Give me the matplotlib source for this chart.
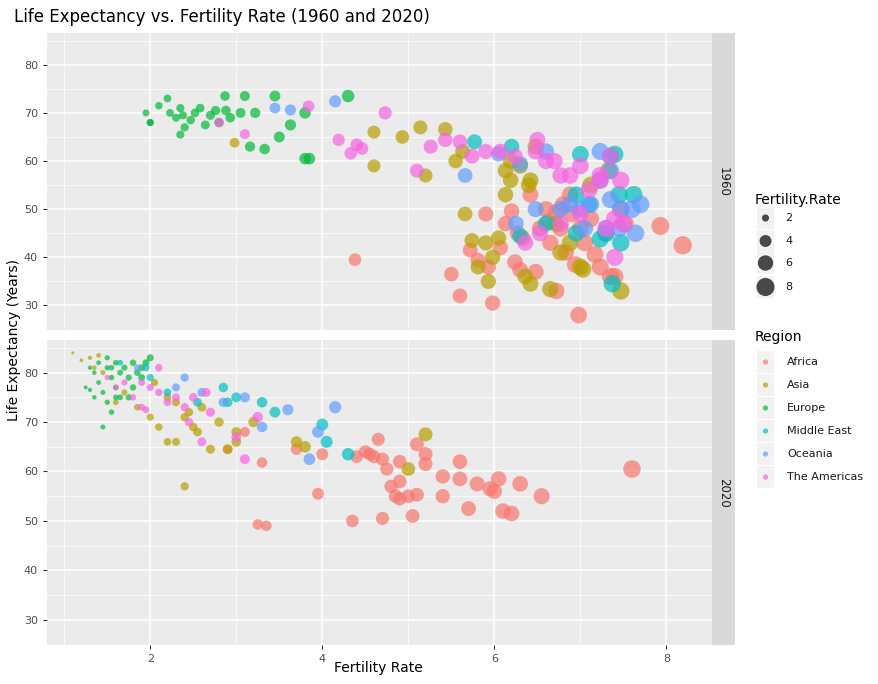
import matplotlib
matplotlib.use("Agg")
import matplotlib.pyplot as plt
import numpy as np

regions = ["Africa", "Asia", "Europe", "Middle East", "Oceania", "The Americas"]
colors = ["#F8766D", "#B79F00", "#00BA38", "#00BFC4", "#619CFF", "#F564E3"]

# ---- 1960 ----
eu60_f = [1.95,2.0,2.0,2.1,2.2,2.23,2.3,2.35,2.35,2.38,2.4,2.47,2.52,2.58,2.64,2.7,2.76,2.8,2.87,2.88,2.93,3.05,3.1,3.16,3.22,3.33,3.45,3.5,3.63,3.8,3.8,3.85,4.3]
eu60_l = [70,68,68,71.5,73,70,69,71,65.5,69.5,67,68.5,70,71,67.5,69.5,70.5,68,73.5,70.5,69,70,73.5,63,70,62.5,73.5,65,67.5,70,60.5,60.5,73.5]
oc60_f = [3.45,3.63,4.15,5.66,6.05,6.3,6.48,6.77,6.88,7.0,7.12,7.23,7.35,7.47,7.64,7.7,7.6,6.25,6.6,7.05,7.3,7.45,7.35,7.23]
oc60_l = [71,70.6,72.4,57,61.5,59.4,50,50,51,50,51,62,52,50,45,51,50,47,62,46,46,46,58,56]
me60_f = [5.77,6.2,6.3,6.6,6.95,7.0,7.1,7.23,7.35,7.37,7.47,7.45,7.62,7.4,6.95,7.3]
me60_l = [64,63,44.4,47,45,61.4,51,43.8,61,34.5,43,53,53,61.4,53,45]
am60_f = [2.8,3.1,3.84,4.19,4.33,4.4,4.46,4.73,5.1,5.26,5.43,5.6,5.74,5.9,6.07,6.24,6.36,6.48,6.5,6.6,6.7,6.77,6.88,7.0,7.1,7.23,7.35,7.4,7.5,7.4,7.47,6.77,6.53,7.23,7.0,7.3]
am60_l = [68,65.6,71.4,64.4,61.6,63.4,62.6,70,58,63,64.4,64,61,62,62,61,43,62,64.4,60,60,57,57,59,54,56,61,48,47,40,56,47,45,57,49,46]
as60_f = [2.98,4.6,4.6,4.93,5.14,5.2,5.43,5.55,5.63,5.66,5.74,5.81,5.9,5.93,5.98,6.05,6.13,6.13,6.19,6.19,6.3,6.36,6.42,6.4,6.48,6.65,6.72,6.77,6.88,7.0,7.03,7.12,7.33,7.47,6.42]
as60_l = [63.8,66,59,65,67,57,66.6,60,62,49,43.5,38,43,35,40,44,58,53,56,60,59,36,56,55,63,33.4,47,41,43,38,37.5,55,58,33,34.5]
af60_f = [4.38,5.5,5.6,5.72,5.81,5.9,5.93,5.98,6.07,6.13,6.2,6.24,6.3,6.33,6.42,6.48,6.53,6.6,6.65,6.72,6.77,6.83,6.88,6.9,6.94,6.98,7.0,7.05,7.12,7.17,7.23,7.29,7.35,7.4,7.47,7.52,7.93,8.19,6.72,6.27,6.63,6.8]
af60_l = [39.5,36.5,32,41.5,39.4,49,38,30.5,42,47,49.6,39,37.4,44,53,37,46,50,43,33,46,41,53,49,38.5,28,46,43,48,40.6,38,45,36,36,50,47,46.5,42.5,49.4,45,47.4,51]

# ---- 2020 ----
eu20_f = [1.3,1.35,1.4,1.4,1.45,1.5,1.5,1.55,1.6,1.6,1.65,1.7,1.75,1.8,1.85,1.9,1.95,2.0,1.3,1.45,1.55,1.6,1.75,1.65,1.8,1.5,1.25,1.35,1.9,1.55]
eu20_l = [81,80,82,78,76,81,74,79,82,77,75,81,79,82,80,81,82,83,76.5,69,72,75,75,80,77,83,77,75,79,81]
as20_f = [1.1,1.2,1.3,1.35,1.45,1.6,1.7,1.85,2.0,2.1,2.2,2.3,2.4,2.5,2.55,2.7,2.9,2.4,3.0,3.0,3.2,3.7,3.8,5.0,5.2,2.2,2.45,2.6,2.05,1.4,2.3,2.8]
as20_l = [84,82.5,83,81,80,74,76,73,71,69,66,66,71,69,68,64.5,64.5,57,66,68,70,66,65,60.5,67.5,75,72,73,78,83.5,74,70]
me20_f = [1.65,1.95,2.0,2.85,2.9,3.0,3.3,3.45,4.0,4.3,2.55,2.2,4.05]
me20_l = [82,81,79,77,74,75,74,72,69.5,63.5,74,76,66]
oc20_f = [1.85,2.3,2.4,2.6,2.85,3.3,3.6,3.85,3.95,4.15,3.1]
oc20_l = [81,77,79,76,74,69,72.5,62.5,68,73,75]
am20_f = [1.5,1.6,1.7,1.8,1.9,1.95,2.0,2.1,2.2,2.3,2.4,2.5,2.6,2.7,3.0,3.1,3.25,2.1,1.9,2.45,2.65]
am20_l = [79,77,78,75,73,72.5,77,76,74,75,73,75,66,72,67,62.5,71,81,78,70,76]
af20_f = [2.9,3.1,3.25,3.35,3.3,3.7,3.95,4.0,4.35,4.4,4.5,4.55,4.6,4.65,4.7,4.75,4.8,4.85,4.9,4.9,5.0,5.05,5.1,5.2,5.2,5.4,5.4,5.6,5.7,5.8,5.95,6.05,6.1,6.2,6.3,6.55,7.6,4.7,5.1,4.9,5.6,6.0]
af20_l = [64.5,68,49.3,49,61.8,64.5,55.5,63.5,50,63,64,63.5,63,66.5,62.5,60.5,57,55,58,62,55,51,65.5,63.5,61.5,59,55,58.5,52.5,57.5,56.5,58.5,52,51.5,57.5,55,60.5,50.5,55.3,54.5,62,56]

data = {
    "1960": [(af60_f, af60_l), (as60_f, as60_l), (eu60_f, eu60_l), (me60_f, me60_l), (oc60_f, oc60_l), (am60_f, am60_l)],
    "2020": [(af20_f, af20_l), (as20_f, as20_l), (eu20_f, eu20_l), (me20_f, me20_l), (oc20_f, oc20_l), (am20_f, am20_l)],
}
fmin, fmax = 1.1, 8.2
def sz(f):
    f = np.asarray(f, float)
    return (2.2 * np.sqrt(1 + (f - fmin) / (fmax - fmin) * 35)) ** 2

W, H = 879, 684
fig = plt.figure(figsize=(W/100, H/100), dpi=100)
bg = fig.add_axes([0, 0, 1, 1], zorder=-1)
bg.set_xlim(0, W); bg.set_ylim(H, 0); bg.axis("off")

panels = [("1960", 33, 330), ("2020", 340, 645)]
L, R = 47, 712
xmajor = [2, 4, 6, 8]
ymajor = [30, 40, 50, 60, 70, 80]
axes = []
for name, top, bot in panels:
    ax = fig.add_axes([L/W, 1-bot/H, (R-L)/W, (bot-top)/H])
    ax.set_facecolor("#EBEBEB")
    for s in ax.spines.values(): s.set_visible(False)
    ax.set_xlim(0.8, 8.53); ax.set_ylim(24.9, 86.6)
    for v in [1, 3, 5, 7]: ax.axvline(v, color="white", lw=0.5, zorder=0)
    for v in [25, 35, 45, 55, 65, 75, 85]: ax.axhline(v, color="white", lw=0.5, zorder=0)
    for v in xmajor: ax.axvline(v, color="white", lw=1.1, zorder=0)
    for v in ymajor: ax.axhline(v, color="white", lw=1.1, zorder=0)
    ax.set_yticks(ymajor)
    ax.set_xticks(xmajor)
    ax.tick_params(colors="#4D4D4D", labelsize=8, length=3, color="#333333")
    for (f, l), c in zip(data[name], colors):
        ax.scatter(f, l, s=sz(f), color=c, alpha=0.7, edgecolors="none", zorder=3)
    # strip
    sax = fig.add_axes([R/W, 1-bot/H, 23/W, (bot-top)/H])
    sax.set_facecolor("#D9D9D9"); sax.set_xticks([]); sax.set_yticks([])
    for s in sax.spines.values(): s.set_visible(False)
    sax.text(0.5, 0.5, name, rotation=-90, ha="center", va="center", fontsize=8.5, color="#1A1A1A", transform=sax.transAxes)
    axes.append(ax)
axes[0].tick_params(labelbottom=False, length=0, axis="x")
axes[0].tick_params(axis="y", length=3)

fig.text(14/W, 1-17/H, "Life Expectancy vs. Fertility Rate (1960 and 2020)", fontsize=12, va="center", ha="left")
fig.text(378/W, 1-668/H, "Fertility Rate", fontsize=10, ha="center", va="center")
fig.text(14/W, 1-340/H, "Life Expectancy (Years)", fontsize=10, rotation=90, ha="center", va="center")

# legends
bg.text(755, 200, "Fertility.Rate", fontsize=10, va="center")
for v, y in zip([2, 4, 6, 8], [218, 241, 263, 287]):
    bg.add_patch(plt.Rectangle((757, y-11), 17, 22, color="#F2F2F2", lw=0))
    bg.scatter([765.5], [y], s=sz([v]), color="black", alpha=0.7, edgecolors="none")
    bg.text(785, y, str(v), fontsize=8, va="center", color="#1A1A1A")
bg.text(755, 337, "Region", fontsize=10, va="center")
for i, (r, c) in enumerate(zip(regions, colors)):
    y = 362 + i*23
    bg.add_patch(plt.Rectangle((757, y-11), 17, 22, color="#F2F2F2", lw=0))
    bg.scatter([765.5], [y], s=14, color=c, alpha=0.7, edgecolors="none")
    bg.text(787, y, r, fontsize=8, va="center", color="#1A1A1A")

fig.savefig("out.png", dpi=100, facecolor="white")
